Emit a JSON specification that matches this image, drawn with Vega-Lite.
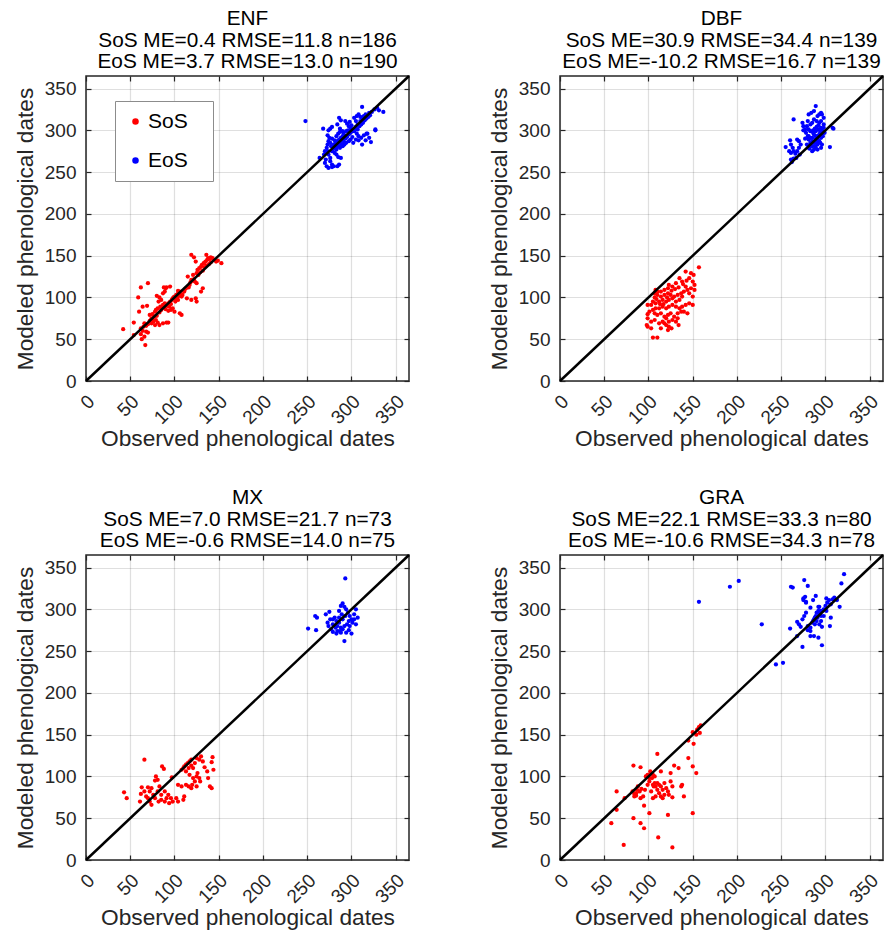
{
"$schema": "https://vega.github.io/schema/vega-lite/v6.json",
"padding": {"left": 13, "top": 7, "right": 4, "bottom": 4},
"bounds": "flush",
"columns": 2,
"spacing": {"row": 174, "column": 151},
"resolve": {"scale": {"color": "independent"}, "legend": {"color": "independent"}},
"config": {
  "font": "Liberation Sans",
  "view": {"stroke": "#262626", "strokeWidth": 1.5},
  "axis": {"domain": false, "tickColor": "#262626", "tickWidth": 1.2, "tickSize": -5, "gridColor": "#262626", "gridOpacity": 0.15, "gridWidth": 1.2, "labelFontSize": 19, "labelColor": "#262626", "titleFontSize": 22.7, "titleFontWeight": "normal", "titleColor": "#262626"},
  "title": {"fontSize": 20.8, "fontWeight": "normal", "lineHeight": 21.5, "offset": -2, "color": "#000000", "anchor": "middle"}
},
"datasets": {
"diag": [{"x": 0, "y": 0}, {"x": 365, "y": 365}],
"enf": [
{"s":"SoS","x":42,"y":62},{"s":"SoS","x":54,"y":70},{"s":"SoS","x":54,"y":55},{"s":"SoS","x":62,"y":56},{"s":"SoS","x":64,"y":60},{"s":"SoS","x":68,"y":59},{"s":"SoS","x":70,"y":58},{"s":"SoS","x":67,"y":43},{"s":"SoS","x":66,"y":53},{"s":"SoS","x":63,"y":50},
{"s":"SoS","x":59,"y":100},{"s":"SoS","x":62,"y":112},{"s":"SoS","x":70,"y":117},{"s":"SoS","x":64,"y":89},{"s":"SoS","x":69,"y":90},{"s":"SoS","x":60,"y":83},{"s":"SoS","x":72,"y":79},{"s":"SoS","x":74,"y":75},{"s":"SoS","x":76,"y":71},{"s":"SoS","x":66,"y":69},
{"s":"SoS","x":70,"y":68},{"s":"SoS","x":74,"y":69},{"s":"SoS","x":78,"y":67},{"s":"SoS","x":79,"y":73},{"s":"SoS","x":81,"y":70},{"s":"SoS","x":83,"y":67},{"s":"SoS","x":87,"y":69},{"s":"SoS","x":91,"y":70},{"s":"SoS","x":93,"y":70},{"s":"SoS","x":75,"y":80},
{"s":"SoS","x":78,"y":83},{"s":"SoS","x":79,"y":85},{"s":"SoS","x":81,"y":87},{"s":"SoS","x":84,"y":89},{"s":"SoS","x":87,"y":91},{"s":"SoS","x":89,"y":93},{"s":"SoS","x":80,"y":102},{"s":"SoS","x":83,"y":100},{"s":"SoS","x":85,"y":97},{"s":"SoS","x":82,"y":95},
{"s":"SoS","x":87,"y":105},{"s":"SoS","x":89,"y":107},{"s":"SoS","x":88,"y":112},{"s":"SoS","x":90,"y":111},{"s":"SoS","x":91,"y":112},{"s":"SoS","x":95,"y":113},{"s":"SoS","x":93,"y":93},{"s":"SoS","x":94,"y":89},{"s":"SoS","x":96,"y":85},{"s":"SoS","x":98,"y":87},
{"s":"SoS","x":100,"y":83},{"s":"SoS","x":106,"y":81},{"s":"SoS","x":108,"y":79},{"s":"SoS","x":98,"y":99},{"s":"SoS","x":100,"y":101},{"s":"SoS","x":102,"y":103},{"s":"SoS","x":104,"y":105},{"s":"SoS","x":106,"y":107},{"s":"SoS","x":101,"y":95},{"s":"SoS","x":104,"y":97},
{"s":"SoS","x":108,"y":101},{"s":"SoS","x":109,"y":103},{"s":"SoS","x":111,"y":107},{"s":"SoS","x":113,"y":111},{"s":"SoS","x":115,"y":113},{"s":"SoS","x":117,"y":115},{"s":"SoS","x":115,"y":125},{"s":"SoS","x":119,"y":121},{"s":"SoS","x":123,"y":119},{"s":"SoS","x":125,"y":117},
{"s":"SoS","x":114,"y":99},{"s":"SoS","x":119,"y":97},{"s":"SoS","x":125,"y":95},{"s":"SoS","x":121,"y":127},{"s":"SoS","x":125,"y":129},{"s":"SoS","x":126,"y":133},{"s":"SoS","x":128,"y":135},{"s":"SoS","x":130,"y":137},{"s":"SoS","x":131,"y":139},{"s":"SoS","x":133,"y":141},
{"s":"SoS","x":135,"y":143},{"s":"SoS","x":137,"y":145},{"s":"SoS","x":138,"y":147},{"s":"SoS","x":140,"y":146},{"s":"SoS","x":141,"y":148},{"s":"SoS","x":143,"y":147},{"s":"SoS","x":145,"y":145},{"s":"SoS","x":147,"y":143},{"s":"SoS","x":149,"y":144},{"s":"SoS","x":153,"y":141},
{"s":"SoS","x":119,"y":151},{"s":"SoS","x":122,"y":148},{"s":"SoS","x":124,"y":143},{"s":"SoS","x":136,"y":151},{"s":"SoS","x":132,"y":111},{"s":"SoS","x":130,"y":107},{"s":"SoS","x":124,"y":99},
{"s":"SoS","x":85,"y":85},{"s":"SoS","x":88,"y":88},{"s":"SoS","x":92,"y":90},{"s":"SoS","x":95,"y":95},{"s":"SoS","x":97,"y":97},{"s":"SoS","x":99,"y":100},{"s":"SoS","x":103,"y":100},{"s":"SoS","x":105,"y":102},{"s":"SoS","x":107,"y":104},{"s":"SoS","x":110,"y":108},
{"s":"SoS","x":112,"y":110},{"s":"SoS","x":116,"y":112},{"s":"SoS","x":118,"y":118},{"s":"SoS","x":120,"y":120},{"s":"SoS","x":122,"y":122},{"s":"SoS","x":127,"y":127},{"s":"SoS","x":129,"y":130},{"s":"SoS","x":132,"y":132},{"s":"SoS","x":134,"y":136},{"s":"SoS","x":136,"y":138},
{"s":"SoS","x":139,"y":140},{"s":"SoS","x":141,"y":142},{"s":"SoS","x":90,"y":86},{"s":"SoS","x":93,"y":84},{"s":"SoS","x":96,"y":92},{"s":"SoS","x":101,"y":98},{"s":"SoS","x":104,"y":108},{"s":"SoS","x":77,"y":77},{"s":"SoS","x":80,"y":78},{"s":"SoS","x":83,"y":82},
{"s":"SoS","x":72,"y":72},{"s":"SoS","x":75,"y":74},{"s":"SoS","x":62,"y":63},{"s":"SoS","x":65,"y":65},{"s":"SoS","x":68,"y":66},
{"s":"EoS","x":248,"y":311},{"s":"EoS","x":264,"y":267},{"s":"EoS","x":268,"y":302},{"s":"EoS","x":274,"y":300},{"s":"EoS","x":276,"y":302},{"s":"EoS","x":278,"y":304},{"s":"EoS","x":273,"y":294},{"s":"EoS","x":275,"y":291},{"s":"EoS","x":274,"y":287},{"s":"EoS","x":273,"y":283},
{"s":"EoS","x":272,"y":279},{"s":"EoS","x":273,"y":275},{"s":"EoS","x":274,"y":271},{"s":"EoS","x":276,"y":267},{"s":"EoS","x":276,"y":263},{"s":"EoS","x":278,"y":259},{"s":"EoS","x":280,"y":257},{"s":"EoS","x":284,"y":257},{"s":"EoS","x":286,"y":259},{"s":"EoS","x":280,"y":283},
{"s":"EoS","x":282,"y":285},{"s":"EoS","x":284,"y":287},{"s":"EoS","x":286,"y":289},{"s":"EoS","x":288,"y":291},{"s":"EoS","x":290,"y":293},{"s":"EoS","x":292,"y":294},{"s":"EoS","x":278,"y":275},{"s":"EoS","x":281,"y":273},{"s":"EoS","x":283,"y":271},{"s":"EoS","x":285,"y":268},
{"s":"EoS","x":288,"y":267},{"s":"EoS","x":287,"y":279},{"s":"EoS","x":290,"y":281},{"s":"EoS","x":292,"y":283},{"s":"EoS","x":294,"y":285},{"s":"EoS","x":297,"y":287},{"s":"EoS","x":299,"y":289},{"s":"EoS","x":301,"y":292},{"s":"EoS","x":286,"y":315},{"s":"EoS","x":288,"y":312},
{"s":"EoS","x":284,"y":307},{"s":"EoS","x":287,"y":302},{"s":"EoS","x":290,"y":299},{"s":"EoS","x":293,"y":311},{"s":"EoS","x":295,"y":308},{"s":"EoS","x":297,"y":305},{"s":"EoS","x":299,"y":302},{"s":"EoS","x":294,"y":299},{"s":"EoS","x":291,"y":297},{"s":"EoS","x":303,"y":315},
{"s":"EoS","x":306,"y":317},{"s":"EoS","x":308,"y":319},{"s":"EoS","x":305,"y":311},{"s":"EoS","x":307,"y":307},{"s":"EoS","x":310,"y":311},{"s":"EoS","x":312,"y":315},{"s":"EoS","x":314,"y":317},{"s":"EoS","x":316,"y":319},{"s":"EoS","x":320,"y":321},{"s":"EoS","x":323,"y":322},
{"s":"EoS","x":326,"y":325},{"s":"EoS","x":329,"y":327},{"s":"EoS","x":331,"y":324},{"s":"EoS","x":336,"y":322},{"s":"EoS","x":303,"y":299},{"s":"EoS","x":306,"y":296},{"s":"EoS","x":308,"y":293},{"s":"EoS","x":305,"y":289},{"s":"EoS","x":302,"y":285},{"s":"EoS","x":308,"y":288},
{"s":"EoS","x":311,"y":291},{"s":"EoS","x":314,"y":294},{"s":"EoS","x":317,"y":296},{"s":"EoS","x":322,"y":286},{"s":"EoS","x":318,"y":296},{"s":"EoS","x":327,"y":301},{"s":"EoS","x":312,"y":283},{"s":"EoS","x":316,"y":288},{"s":"EoS","x":320,"y":291},{"s":"EoS","x":271,"y":265},
{"s":"EoS","x":270,"y":261},{"s":"EoS","x":272,"y":257},{"s":"EoS","x":274,"y":255},{"s":"EoS","x":278,"y":256},{"s":"EoS","x":269,"y":271},{"s":"EoS","x":270,"y":275},{"s":"EoS","x":312,"y":328},{"s":"EoS","x":327,"y":300},
{"s":"EoS","x":280,"y":279},{"s":"EoS","x":282,"y":281},{"s":"EoS","x":284,"y":283},{"s":"EoS","x":286,"y":285},{"s":"EoS","x":288,"y":287},{"s":"EoS","x":290,"y":289},{"s":"EoS","x":277,"y":281},{"s":"EoS","x":279,"y":277},{"s":"EoS","x":283,"y":277},{"s":"EoS","x":285,"y":281},
{"s":"EoS","x":289,"y":283},{"s":"EoS","x":291,"y":287},{"s":"EoS","x":293,"y":290},{"s":"EoS","x":295,"y":292},{"s":"EoS","x":297,"y":295},{"s":"EoS","x":299,"y":297},{"s":"EoS","x":301,"y":299},{"s":"EoS","x":303,"y":302},{"s":"EoS","x":305,"y":304},{"s":"EoS","x":307,"y":301},
{"s":"EoS","x":309,"y":305},{"s":"EoS","x":311,"y":307},{"s":"EoS","x":313,"y":309},{"s":"EoS","x":315,"y":312},{"s":"EoS","x":317,"y":314},{"s":"EoS","x":319,"y":316},{"s":"EoS","x":321,"y":318},{"s":"EoS","x":300,"y":306},{"s":"EoS","x":296,"y":300},{"s":"EoS","x":298,"y":310},
{"s":"EoS","x":310,"y":316},{"s":"EoS","x":276,"y":285},{"s":"EoS","x":278,"y":290},{"s":"EoS","x":281,"y":288},{"s":"EoS","x":283,"y":293},{"s":"EoS","x":285,"y":296},{"s":"EoS","x":287,"y":298}
],
"dbf": [
{"s":"SoS","x":157,"y":136},{"s":"SoS","x":142,"y":131},{"s":"SoS","x":148,"y":129},{"s":"SoS","x":151,"y":127},{"s":"SoS","x":146,"y":123},{"s":"SoS","x":150,"y":119},{"s":"SoS","x":152,"y":115},{"s":"SoS","x":148,"y":111},{"s":"SoS","x":142,"y":113},{"s":"SoS","x":135,"y":123},
{"s":"SoS","x":138,"y":119},{"s":"SoS","x":131,"y":117},{"s":"SoS","x":127,"y":113},{"s":"SoS","x":123,"y":115},{"s":"SoS","x":122,"y":111},{"s":"SoS","x":118,"y":109},{"s":"SoS","x":114,"y":107},{"s":"SoS","x":110,"y":107},{"s":"SoS","x":108,"y":109},{"s":"SoS","x":107,"y":105},
{"s":"SoS","x":110,"y":103},{"s":"SoS","x":114,"y":101},{"s":"SoS","x":118,"y":103},{"s":"SoS","x":122,"y":105},{"s":"SoS","x":125,"y":103},{"s":"SoS","x":129,"y":101},{"s":"SoS","x":133,"y":103},{"s":"SoS","x":137,"y":105},{"s":"SoS","x":140,"y":107},{"s":"SoS","x":144,"y":109},
{"s":"SoS","x":138,"y":101},{"s":"SoS","x":135,"y":97},{"s":"SoS","x":131,"y":95},{"s":"SoS","x":127,"y":99},{"s":"SoS","x":123,"y":97},{"s":"SoS","x":120,"y":95},{"s":"SoS","x":116,"y":97},{"s":"SoS","x":112,"y":95},{"s":"SoS","x":108,"y":93},{"s":"SoS","x":105,"y":95},
{"s":"SoS","x":103,"y":91},{"s":"SoS","x":101,"y":83},{"s":"SoS","x":105,"y":85},{"s":"SoS","x":108,"y":87},{"s":"SoS","x":112,"y":87},{"s":"SoS","x":116,"y":89},{"s":"SoS","x":120,"y":87},{"s":"SoS","x":123,"y":89},{"s":"SoS","x":127,"y":91},{"s":"SoS","x":131,"y":89},
{"s":"SoS","x":135,"y":87},{"s":"SoS","x":138,"y":89},{"s":"SoS","x":142,"y":91},{"s":"SoS","x":146,"y":93},{"s":"SoS","x":150,"y":91},{"s":"SoS","x":107,"y":81},{"s":"SoS","x":110,"y":79},{"s":"SoS","x":114,"y":81},{"s":"SoS","x":118,"y":77},{"s":"SoS","x":122,"y":79},
{"s":"SoS","x":125,"y":81},{"s":"SoS","x":129,"y":77},{"s":"SoS","x":133,"y":81},{"s":"SoS","x":137,"y":83},{"s":"SoS","x":140,"y":83},{"s":"SoS","x":144,"y":81},{"s":"SoS","x":99,"y":75},{"s":"SoS","x":103,"y":71},{"s":"SoS","x":107,"y":73},{"s":"SoS","x":112,"y":69},
{"s":"SoS","x":116,"y":71},{"s":"SoS","x":120,"y":75},{"s":"SoS","x":123,"y":71},{"s":"SoS","x":127,"y":73},{"s":"SoS","x":131,"y":71},{"s":"SoS","x":133,"y":75},{"s":"SoS","x":99,"y":65},{"s":"SoS","x":103,"y":63},{"s":"SoS","x":120,"y":67},{"s":"SoS","x":123,"y":65},
{"s":"SoS","x":122,"y":61},{"s":"SoS","x":118,"y":69},{"s":"SoS","x":105,"y":52},{"s":"SoS","x":110,"y":52},{"s":"SoS","x":146,"y":105},{"s":"SoS","x":150,"y":101},{"s":"SoS","x":152,"y":109},{"s":"SoS","x":99,"y":91},{"s":"SoS","x":99,"y":80},{"s":"SoS","x":98,"y":67},
{"s":"SoS","x":114,"y":63},{"s":"SoS","x":126,"y":63},{"s":"SoS","x":134,"y":67},{"s":"SoS","x":107,"y":100},{"s":"SoS","x":109,"y":98},{"s":"SoS","x":113,"y":92},{"s":"SoS","x":117,"y":92},{"s":"SoS","x":121,"y":100},{"s":"SoS","x":126,"y":108},{"s":"SoS","x":130,"y":110},
{"s":"SoS","x":134,"y":112},{"s":"SoS","x":139,"y":116},{"s":"SoS","x":143,"y":120},
{"s":"EoS","x":264,"y":313},{"s":"EoS","x":255,"y":280},{"s":"EoS","x":260,"y":288},{"s":"EoS","x":261,"y":283},{"s":"EoS","x":263,"y":279},{"s":"EoS","x":264,"y":275},{"s":"EoS","x":266,"y":272},{"s":"EoS","x":261,"y":273},{"s":"EoS","x":259,"y":275},{"s":"EoS","x":261,"y":265},
{"s":"EoS","x":264,"y":266},{"s":"EoS","x":267,"y":267},{"s":"EoS","x":268,"y":289},{"s":"EoS","x":270,"y":287},{"s":"EoS","x":272,"y":283},{"s":"EoS","x":270,"y":279},{"s":"EoS","x":268,"y":275},{"s":"EoS","x":271,"y":271},{"s":"EoS","x":274,"y":309},{"s":"EoS","x":275,"y":305},
{"s":"EoS","x":277,"y":301},{"s":"EoS","x":278,"y":297},{"s":"EoS","x":280,"y":293},{"s":"EoS","x":281,"y":289},{"s":"EoS","x":283,"y":285},{"s":"EoS","x":285,"y":281},{"s":"EoS","x":287,"y":277},{"s":"EoS","x":289,"y":279},{"s":"EoS","x":291,"y":283},{"s":"EoS","x":293,"y":287},
{"s":"EoS","x":295,"y":291},{"s":"EoS","x":296,"y":295},{"s":"EoS","x":281,"y":319},{"s":"EoS","x":284,"y":321},{"s":"EoS","x":287,"y":323},{"s":"EoS","x":289,"y":329},{"s":"EoS","x":291,"y":317},{"s":"EoS","x":293,"y":319},{"s":"EoS","x":295,"y":321},{"s":"EoS","x":296,"y":319},
{"s":"EoS","x":298,"y":315},{"s":"EoS","x":280,"y":311},{"s":"EoS","x":283,"y":307},{"s":"EoS","x":285,"y":309},{"s":"EoS","x":287,"y":313},{"s":"EoS","x":290,"y":311},{"s":"EoS","x":293,"y":309},{"s":"EoS","x":295,"y":311},{"s":"EoS","x":298,"y":307},{"s":"EoS","x":295,"y":303},
{"s":"EoS","x":292,"y":301},{"s":"EoS","x":289,"y":299},{"s":"EoS","x":286,"y":297},{"s":"EoS","x":283,"y":299},{"s":"EoS","x":281,"y":301},{"s":"EoS","x":281,"y":293},{"s":"EoS","x":285,"y":291},{"s":"EoS","x":289,"y":289},{"s":"EoS","x":291,"y":293},{"s":"EoS","x":287,"y":295},
{"s":"EoS","x":283,"y":283},{"s":"EoS","x":287,"y":285},{"s":"EoS","x":291,"y":289},{"s":"EoS","x":294,"y":285},{"s":"EoS","x":296,"y":283},{"s":"EoS","x":295,"y":279},{"s":"EoS","x":291,"y":277},{"s":"EoS","x":285,"y":275},{"s":"EoS","x":281,"y":279},{"s":"EoS","x":305,"y":280},
{"s":"EoS","x":308,"y":303},{"s":"EoS","x":309,"y":302},{"s":"EoS","x":263,"y":265},{"s":"EoS","x":262,"y":262},{"s":"EoS","x":286,"y":300},{"s":"EoS","x":288,"y":302},{"s":"EoS","x":290,"y":304},{"s":"EoS","x":292,"y":306},{"s":"EoS","x":294,"y":298},{"s":"EoS","x":296,"y":300},
{"s":"EoS","x":298,"y":303},{"s":"EoS","x":299,"y":297},{"s":"EoS","x":297,"y":293},{"s":"EoS","x":293,"y":295},{"s":"EoS","x":289,"y":293},{"s":"EoS","x":285,"y":287},{"s":"EoS","x":283,"y":291},{"s":"EoS","x":279,"y":305},{"s":"EoS","x":277,"y":290},{"s":"EoS","x":275,"y":300},
{"s":"EoS","x":279,"y":283},{"s":"EoS","x":282,"y":278},{"s":"EoS","x":288,"y":281},{"s":"EoS","x":290,"y":285}
],
"mx": [
{"s":"SoS","x":43,"y":81},{"s":"SoS","x":46,"y":74},{"s":"SoS","x":66,"y":120},{"s":"SoS","x":63,"y":87},{"s":"SoS","x":62,"y":79},{"s":"SoS","x":61,"y":70},{"s":"SoS","x":70,"y":87},{"s":"SoS","x":72,"y":82},{"s":"SoS","x":74,"y":86},{"s":"SoS","x":68,"y":76},
{"s":"SoS","x":70,"y":74},{"s":"SoS","x":72,"y":70},{"s":"SoS","x":74,"y":66},{"s":"SoS","x":78,"y":74},{"s":"SoS","x":76,"y":78},{"s":"SoS","x":66,"y":82},{"s":"SoS","x":79,"y":100},{"s":"SoS","x":81,"y":96},{"s":"SoS","x":78,"y":95},{"s":"SoS","x":86,"y":112},
{"s":"SoS","x":88,"y":109},{"s":"SoS","x":83,"y":88},{"s":"SoS","x":81,"y":82},{"s":"SoS","x":85,"y":78},{"s":"SoS","x":89,"y":82},{"s":"SoS","x":91,"y":74},{"s":"SoS","x":93,"y":78},{"s":"SoS","x":96,"y":74},{"s":"SoS","x":98,"y":70},{"s":"SoS","x":94,"y":68},
{"s":"SoS","x":89,"y":70},{"s":"SoS","x":85,"y":72},{"s":"SoS","x":82,"y":70},{"s":"SoS","x":97,"y":99},{"s":"SoS","x":104,"y":90},{"s":"SoS","x":108,"y":88},{"s":"SoS","x":102,"y":74},{"s":"SoS","x":104,"y":70},{"s":"SoS","x":110,"y":72},{"s":"SoS","x":111,"y":76},
{"s":"SoS","x":108,"y":108},{"s":"SoS","x":110,"y":110},{"s":"SoS","x":111,"y":112},{"s":"SoS","x":113,"y":114},{"s":"SoS","x":115,"y":116},{"s":"SoS","x":117,"y":118},{"s":"SoS","x":119,"y":120},{"s":"SoS","x":116,"y":110},{"s":"SoS","x":119,"y":113},{"s":"SoS","x":123,"y":116},
{"s":"SoS","x":121,"y":110},{"s":"SoS","x":125,"y":122},{"s":"SoS","x":113,"y":106},{"s":"SoS","x":117,"y":102},{"s":"SoS","x":121,"y":98},{"s":"SoS","x":125,"y":100},{"s":"SoS","x":126,"y":104},{"s":"SoS","x":128,"y":98},{"s":"SoS","x":129,"y":94},{"s":"SoS","x":123,"y":94},
{"s":"SoS","x":120,"y":90},{"s":"SoS","x":116,"y":88},{"s":"SoS","x":113,"y":90},{"s":"SoS","x":119,"y":86},{"s":"SoS","x":125,"y":88},{"s":"SoS","x":130,"y":124},{"s":"SoS","x":132,"y":118},{"s":"SoS","x":128,"y":120},{"s":"SoS","x":134,"y":111},{"s":"SoS","x":138,"y":98},
{"s":"SoS","x":140,"y":88},{"s":"SoS","x":142,"y":86},{"s":"SoS","x":137,"y":106},{"s":"SoS","x":142,"y":117},{"s":"SoS","x":143,"y":123},{"s":"SoS","x":144,"y":108},
{"s":"EoS","x":293,"y":337},{"s":"EoS","x":251,"y":277},{"s":"EoS","x":260,"y":275},{"s":"EoS","x":261,"y":290},{"s":"EoS","x":259,"y":292},{"s":"EoS","x":271,"y":294},{"s":"EoS","x":275,"y":297},{"s":"EoS","x":276,"y":288},{"s":"EoS","x":273,"y":284},{"s":"EoS","x":274,"y":280},
{"s":"EoS","x":277,"y":276},{"s":"EoS","x":279,"y":273},{"s":"EoS","x":283,"y":271},{"s":"EoS","x":284,"y":274},{"s":"EoS","x":281,"y":290},{"s":"EoS","x":283,"y":286},{"s":"EoS","x":279,"y":282},{"s":"EoS","x":286,"y":284},{"s":"EoS","x":284,"y":280},{"s":"EoS","x":282,"y":278},
{"s":"EoS","x":288,"y":278},{"s":"EoS","x":290,"y":276},{"s":"EoS","x":292,"y":280},{"s":"EoS","x":288,"y":272},{"s":"EoS","x":294,"y":272},{"s":"EoS","x":297,"y":275},{"s":"EoS","x":298,"y":280},{"s":"EoS","x":292,"y":262},{"s":"EoS","x":300,"y":271},{"s":"EoS","x":286,"y":298},
{"s":"EoS","x":288,"y":304},{"s":"EoS","x":290,"y":307},{"s":"EoS","x":292,"y":303},{"s":"EoS","x":294,"y":300},{"s":"EoS","x":289,"y":294},{"s":"EoS","x":293,"y":292},{"s":"EoS","x":296,"y":296},{"s":"EoS","x":298,"y":292},{"s":"EoS","x":300,"y":288},{"s":"EoS","x":297,"y":286},
{"s":"EoS","x":301,"y":284},{"s":"EoS","x":305,"y":282},{"s":"EoS","x":303,"y":294},{"s":"EoS","x":305,"y":300},{"s":"EoS","x":303,"y":288},{"s":"EoS","x":307,"y":290},{"s":"EoS","x":290,"y":288},{"s":"EoS","x":286,"y":290},{"s":"EoS","x":295,"y":282},{"s":"EoS","x":287,"y":274},
{"s":"EoS","x":279,"y":288}
],
"gra": [
{"s":"SoS","x":58,"y":44},{"s":"SoS","x":64,"y":60},{"s":"SoS","x":64,"y":82},{"s":"SoS","x":73,"y":74},{"s":"SoS","x":72,"y":18},{"s":"SoS","x":83,"y":113},{"s":"SoS","x":91,"y":111},{"s":"SoS","x":83,"y":50},{"s":"SoS","x":87,"y":84},{"s":"SoS","x":84,"y":79},
{"s":"SoS","x":86,"y":77},{"s":"SoS","x":91,"y":44},{"s":"SoS","x":95,"y":38},{"s":"SoS","x":95,"y":65},{"s":"SoS","x":90,"y":82},{"s":"SoS","x":91,"y":74},{"s":"SoS","x":94,"y":76},{"s":"SoS","x":96,"y":84},{"s":"SoS","x":99,"y":90},{"s":"SoS","x":101,"y":98},
{"s":"SoS","x":103,"y":104},{"s":"SoS","x":102,"y":106},{"s":"SoS","x":105,"y":102},{"s":"SoS","x":107,"y":100},{"s":"SoS","x":101,"y":56},{"s":"SoS","x":101,"y":94},{"s":"SoS","x":103,"y":82},{"s":"SoS","x":105,"y":90},{"s":"SoS","x":107,"y":92},{"s":"SoS","x":108,"y":88},
{"s":"SoS","x":110,"y":84},{"s":"SoS","x":112,"y":80},{"s":"SoS","x":114,"y":76},{"s":"SoS","x":116,"y":74},{"s":"SoS","x":108,"y":76},{"s":"SoS","x":105,"y":74},{"s":"SoS","x":110,"y":92},{"s":"SoS","x":114,"y":88},{"s":"SoS","x":118,"y":92},{"s":"SoS","x":122,"y":82},
{"s":"SoS","x":123,"y":78},{"s":"SoS","x":125,"y":94},{"s":"SoS","x":127,"y":88},{"s":"SoS","x":125,"y":104},{"s":"SoS","x":114,"y":106},{"s":"SoS","x":110,"y":127},{"s":"SoS","x":122,"y":54},{"s":"SoS","x":127,"y":75},{"s":"SoS","x":129,"y":113},{"s":"SoS","x":134,"y":110},
{"s":"SoS","x":137,"y":88},{"s":"SoS","x":138,"y":90},{"s":"SoS","x":140,"y":76},{"s":"SoS","x":111,"y":27},{"s":"SoS","x":127,"y":15},{"s":"SoS","x":145,"y":122},{"s":"SoS","x":150,"y":112},{"s":"SoS","x":154,"y":104},{"s":"SoS","x":150,"y":56},{"s":"SoS","x":145,"y":143},
{"s":"SoS","x":150,"y":153},{"s":"SoS","x":151,"y":139},{"s":"SoS","x":155,"y":156},{"s":"SoS","x":157,"y":159},{"s":"SoS","x":159,"y":161},{"s":"SoS","x":154,"y":150},{"s":"SoS","x":158,"y":152},{"s":"SoS","x":82,"y":82},{"s":"SoS","x":88,"y":88},{"s":"SoS","x":86,"y":80},
{"s":"SoS","x":84,"y":76},{"s":"SoS","x":92,"y":85},{"s":"SoS","x":97,"y":100},{"s":"SoS","x":99,"y":102},{"s":"SoS","x":104,"y":98},{"s":"SoS","x":106,"y":88},{"s":"SoS","x":112,"y":90},{"s":"SoS","x":116,"y":84},{"s":"SoS","x":118,"y":78},{"s":"SoS","x":120,"y":86},
{"s":"EoS","x":157,"y":309},{"s":"EoS","x":192,"y":327},{"s":"EoS","x":202,"y":334},{"s":"EoS","x":228,"y":282},{"s":"EoS","x":244,"y":234},{"s":"EoS","x":252,"y":236},{"s":"EoS","x":261,"y":327},{"s":"EoS","x":263,"y":326},{"s":"EoS","x":276,"y":335},{"s":"EoS","x":280,"y":328},
{"s":"EoS","x":260,"y":277},{"s":"EoS","x":268,"y":268},{"s":"EoS","x":274,"y":255},{"s":"EoS","x":296,"y":257},{"s":"EoS","x":289,"y":316},{"s":"EoS","x":275,"y":313},{"s":"EoS","x":278,"y":308},{"s":"EoS","x":283,"y":302},{"s":"EoS","x":268,"y":285},{"s":"EoS","x":270,"y":282},
{"s":"EoS","x":272,"y":279},{"s":"EoS","x":274,"y":288},{"s":"EoS","x":276,"y":292},{"s":"EoS","x":278,"y":296},{"s":"EoS","x":280,"y":280},{"s":"EoS","x":283,"y":278},{"s":"EoS","x":285,"y":284},{"s":"EoS","x":287,"y":288},{"s":"EoS","x":289,"y":292},{"s":"EoS","x":291,"y":290},
{"s":"EoS","x":293,"y":294},{"s":"EoS","x":295,"y":292},{"s":"EoS","x":290,"y":286},{"s":"EoS","x":288,"y":282},{"s":"EoS","x":293,"y":282},{"s":"EoS","x":295,"y":286},{"s":"EoS","x":283,"y":274},{"s":"EoS","x":287,"y":268},{"s":"EoS","x":292,"y":266},{"s":"EoS","x":283,"y":268},
{"s":"EoS","x":293,"y":303},{"s":"EoS","x":295,"y":298},{"s":"EoS","x":298,"y":300},{"s":"EoS","x":300,"y":304},{"s":"EoS","x":302,"y":308},{"s":"EoS","x":304,"y":311},{"s":"EoS","x":306,"y":306},{"s":"EoS","x":308,"y":312},{"s":"EoS","x":310,"y":314},{"s":"EoS","x":313,"y":311},
{"s":"EoS","x":301,"y":298},{"s":"EoS","x":298,"y":292},{"s":"EoS","x":296,"y":279},{"s":"EoS","x":305,"y":280},{"s":"EoS","x":306,"y":290},{"s":"EoS","x":316,"y":303},{"s":"EoS","x":318,"y":331},{"s":"EoS","x":321,"y":342},{"s":"EoS","x":277,"y":315},{"s":"EoS","x":275,"y":311},
{"s":"EoS","x":278,"y":309},{"s":"EoS","x":280,"y":275},{"s":"EoS","x":292,"y":303},{"s":"EoS","x":286,"y":311},{"s":"EoS","x":301,"y":313},{"s":"EoS","x":290,"y":296},{"s":"EoS","x":292,"y":298},{"s":"EoS","x":294,"y":296},{"s":"EoS","x":288,"y":290},{"s":"EoS","x":286,"y":286}
]
},
"concat": [
{
 "width": 323, "height": 305,
 "title": {"text": ["ENF", "SoS ME=0.4 RMSE=11.8 n=186", "EoS ME=3.7 RMSE=13.0 n=190"]},
 "layer": [
  {"data": {"name": "enf"}, "mark": {"type": "circle", "size": 18, "opacity": 1},
   "encoding": {
    "x": {"field": "x", "type": "quantitative", "scale": {"domain": [0, 365], "nice": false}, "axis": {"orient": "bottom", "values": [0,50,100,150,200,250,300,350], "grid": true, "labelFontSize": 19, "labelAngle": -45, "labelAlign": "right", "labelBaseline": "middle", "labelPadding": 22, "labelOffset": 5, "title": "Observed phenological dates", "titleFontSize": 22.7, "titleY": 64, "titleBaseline": "alphabetic"}},
    "y": {"field": "y", "type": "quantitative", "scale": {"domain": [0, 365], "nice": false}, "axis": {"orient": "left", "values": [0,50,100,150,200,250,300,350], "grid": true, "labelFontSize": 19, "labelPadding": 15, "title": "Modeled phenological dates", "titleFontSize": 22.7, "titleX": -54, "titleBaseline": "alphabetic"}},
    "color": {"field": "s", "type": "nominal", "scale": {"domain": ["SoS", "EoS"], "range": ["#ff0000", "#0000ff"]},
     "legend": {"title": null, "orient": "none", "legendX": 29, "legendY": 25, "fillColor": "#ffffff", "strokeColor": "#8c8c8c", "padding": 10, "rowPadding": 17, "symbolType": "circle", "symbolSize": 42, "symbolStrokeWidth": 0, "labelFontSize": 21, "labelColor": "#000000", "labelOffset": 2, "labelExpr": "datum.label + '\u2800'"}}
   }},
  {"data": {"name": "diag"}, "mark": {"type": "line", "color": "#000000", "strokeWidth": 2.5},
   "encoding": {
    "x": {"field": "x", "type": "quantitative", "scale": {"domain": [0, 365], "nice": false}, "axis": {"orient": "top", "values": [0,50,100,150,200,250,300,350], "labels": false, "grid": false, "title": null}},
    "y": {"field": "y", "type": "quantitative", "scale": {"domain": [0, 365], "nice": false}, "axis": {"orient": "right", "values": [0,50,100,150,200,250,300,350], "labels": false, "grid": false, "title": null}}
   }}
 ]
},
{
 "width": 323, "height": 305,
 "title": {"text": ["DBF", "SoS ME=30.9 RMSE=34.4 n=139", "EoS ME=-10.2 RMSE=16.7 n=139"]},
 "layer": [
  {"data": {"name": "dbf"}, "mark": {"type": "circle", "size": 18, "opacity": 1},
   "encoding": {
    "x": {"field": "x", "type": "quantitative", "scale": {"domain": [0, 365], "nice": false}, "axis": {"orient": "bottom", "values": [0,50,100,150,200,250,300,350], "grid": true, "labelFontSize": 19, "labelAngle": -45, "labelAlign": "right", "labelBaseline": "middle", "labelPadding": 22, "labelOffset": 5, "title": "Observed phenological dates", "titleFontSize": 22.7, "titleY": 64, "titleBaseline": "alphabetic"}},
    "y": {"field": "y", "type": "quantitative", "scale": {"domain": [0, 365], "nice": false}, "axis": {"orient": "left", "values": [0,50,100,150,200,250,300,350], "grid": true, "labelFontSize": 19, "labelPadding": 15, "title": "Modeled phenological dates", "titleFontSize": 22.7, "titleX": -54, "titleBaseline": "alphabetic"}},
    "color": {"field": "s", "type": "nominal", "scale": {"domain": ["SoS", "EoS"], "range": ["#ff0000", "#0000ff"]}, "legend": null}
   }},
  {"data": {"name": "diag"}, "mark": {"type": "line", "color": "#000000", "strokeWidth": 2.5},
   "encoding": {
    "x": {"field": "x", "type": "quantitative", "scale": {"domain": [0, 365], "nice": false}, "axis": {"orient": "top", "values": [0,50,100,150,200,250,300,350], "labels": false, "grid": false, "title": null}},
    "y": {"field": "y", "type": "quantitative", "scale": {"domain": [0, 365], "nice": false}, "axis": {"orient": "right", "values": [0,50,100,150,200,250,300,350], "labels": false, "grid": false, "title": null}}
   }}
 ]
},
{
 "width": 323, "height": 305,
 "title": {"text": ["MX", "SoS ME=7.0 RMSE=21.7 n=73", "EoS ME=-0.6 RMSE=14.0 n=75"]},
 "layer": [
  {"data": {"name": "mx"}, "mark": {"type": "circle", "size": 18, "opacity": 1},
   "encoding": {
    "x": {"field": "x", "type": "quantitative", "scale": {"domain": [0, 365], "nice": false}, "axis": {"orient": "bottom", "values": [0,50,100,150,200,250,300,350], "grid": true, "labelFontSize": 19, "labelAngle": -45, "labelAlign": "right", "labelBaseline": "middle", "labelPadding": 22, "labelOffset": 5, "title": "Observed phenological dates", "titleFontSize": 22.7, "titleY": 64, "titleBaseline": "alphabetic"}},
    "y": {"field": "y", "type": "quantitative", "scale": {"domain": [0, 365], "nice": false}, "axis": {"orient": "left", "values": [0,50,100,150,200,250,300,350], "grid": true, "labelFontSize": 19, "labelPadding": 15, "title": "Modeled phenological dates", "titleFontSize": 22.7, "titleX": -54, "titleBaseline": "alphabetic"}},
    "color": {"field": "s", "type": "nominal", "scale": {"domain": ["SoS", "EoS"], "range": ["#ff0000", "#0000ff"]}, "legend": null}
   }},
  {"data": {"name": "diag"}, "mark": {"type": "line", "color": "#000000", "strokeWidth": 2.5},
   "encoding": {
    "x": {"field": "x", "type": "quantitative", "scale": {"domain": [0, 365], "nice": false}, "axis": {"orient": "top", "values": [0,50,100,150,200,250,300,350], "labels": false, "grid": false, "title": null}},
    "y": {"field": "y", "type": "quantitative", "scale": {"domain": [0, 365], "nice": false}, "axis": {"orient": "right", "values": [0,50,100,150,200,250,300,350], "labels": false, "grid": false, "title": null}}
   }}
 ]
},
{
 "width": 323, "height": 305,
 "title": {"text": ["GRA", "SoS ME=22.1 RMSE=33.3 n=80", "EoS ME=-10.6 RMSE=34.3 n=78"]},
 "layer": [
  {"data": {"name": "gra"}, "mark": {"type": "circle", "size": 18, "opacity": 1},
   "encoding": {
    "x": {"field": "x", "type": "quantitative", "scale": {"domain": [0, 365], "nice": false}, "axis": {"orient": "bottom", "values": [0,50,100,150,200,250,300,350], "grid": true, "labelFontSize": 19, "labelAngle": -45, "labelAlign": "right", "labelBaseline": "middle", "labelPadding": 22, "labelOffset": 5, "title": "Observed phenological dates", "titleFontSize": 22.7, "titleY": 64, "titleBaseline": "alphabetic"}},
    "y": {"field": "y", "type": "quantitative", "scale": {"domain": [0, 365], "nice": false}, "axis": {"orient": "left", "values": [0,50,100,150,200,250,300,350], "grid": true, "labelFontSize": 19, "labelPadding": 15, "title": "Modeled phenological dates", "titleFontSize": 22.7, "titleX": -54, "titleBaseline": "alphabetic"}},
    "color": {"field": "s", "type": "nominal", "scale": {"domain": ["SoS", "EoS"], "range": ["#ff0000", "#0000ff"]}, "legend": null}
   }},
  {"data": {"name": "diag"}, "mark": {"type": "line", "color": "#000000", "strokeWidth": 2.5},
   "encoding": {
    "x": {"field": "x", "type": "quantitative", "scale": {"domain": [0, 365], "nice": false}, "axis": {"orient": "top", "values": [0,50,100,150,200,250,300,350], "labels": false, "grid": false, "title": null}},
    "y": {"field": "y", "type": "quantitative", "scale": {"domain": [0, 365], "nice": false}, "axis": {"orient": "right", "values": [0,50,100,150,200,250,300,350], "labels": false, "grid": false, "title": null}}
   }}
 ]
}
]
}
